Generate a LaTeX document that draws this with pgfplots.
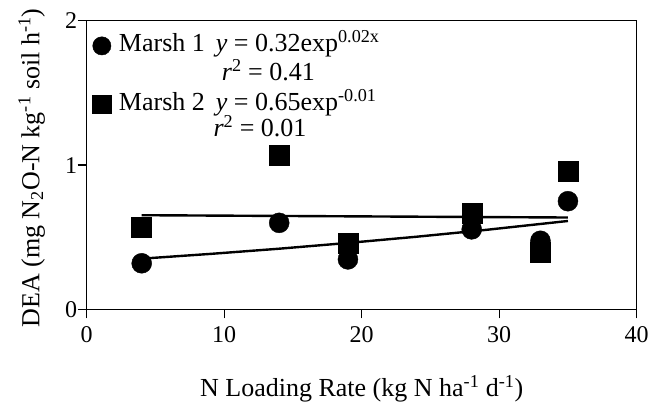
\documentclass[border=0pt]{standalone}
\usepackage{fontspec}
\setmainfont{Liberation Serif}
\usepackage{pgfplots}
\pgfplotsset{compat=1.18}
\begin{document}
\begin{tikzpicture}
\begin{axis}[name=ax,
  scale only axis, width=550pt, height=288.8pt,
  xmin=0, xmax=40, ymin=0, ymax=2,
  xtick={0,10,20,30,40}, ytick={0,1,2},
  xtick pos=bottom, ytick pos=left, tick align=outside, major tick length=9pt,
  tick style={line width=1.2pt, black},
  axis line style={line width=1.2pt},
  /pgf/number format/assume math mode=true,
  every tick label/.append style={font=\fontsize{24}{24}\selectfont},
  xticklabel style={yshift=-5pt},
  yticklabel style={xshift=3pt},
  every axis x label/.style={at={(axis description cs:0.5,-0.302)}, anchor=base},
  every axis y label/.style={at={(axis description cs:-0.0862,0.49)}, rotate=90, anchor=base},
  label style={font=\fontsize{26}{26}\selectfont},
  xlabel={N Loading Rate (kg N ha\textsuperscript{-1} d\textsuperscript{-1})},
  ylabel={DEA (mg N\textsubscript{2}O-N kg\textsuperscript{-1} soil h\textsuperscript{-1})},
  legend image code/.code={\draw[#1, mark size=9.15pt] plot coordinates {(0pt,0pt)};},
  legend cell align=left,
  legend style={at={(axis description cs:0,1)}, anchor=north west, xshift=5.8pt, yshift=-13pt,
    draw=none, fill=none, inner sep=0pt, row sep=34.3pt,
    font=\fontsize{26}{26}\selectfont,
    nodes={inner sep=0pt, text height=18pt, text depth=6pt},
    /tikz/every odd column/.append style={column sep=8pt}},
]
\addplot[only marks, mark=*, mark size=10pt, black] coordinates {
 (4,0.32) (14,0.60) (19,0.347) (28,0.555) (33,0.476) (35,0.75)};
\addlegendentry{Marsh 1\hspace{0.42em}\textit{y} = 0.32exp\textsuperscript{0.02x}}
\addplot[only marks, mark=square*, mark size=10pt, black] coordinates {
 (4,0.567) (14,1.07) (19,0.46) (28,0.67) (33,0.40) (35,0.955)};
\addlegendentry{Marsh 2\hspace{0.42em}\textit{y} = 0.65exp\textsuperscript{-0.01}}
\addplot[forget plot, black, line width=2.4pt] coordinates {
 (4,0.352) (9,0.385) (14,0.421) (19,0.461) (24,0.504) (29,0.551) (35,0.613)};
\addplot[forget plot, black, line width=2.4pt] coordinates {
 (4,0.653) (35,0.637)};
\node[anchor=base west, inner sep=0pt, font=\fontsize{26}{26}\selectfont] at (axis cs:9.82,1.589) {\textit{r}\textsuperscript{2} = 0.41};
\node[anchor=base west, inner sep=0pt, font=\fontsize{26}{26}\selectfont] at (axis cs:9.21,1.197) {\textit{r}\textsuperscript{2} = 0.01};
\end{axis}
\pgfresetboundingbox
\path ([xshift=-86.7pt,yshift=-96.5pt]ax.south west) rectangle ([xshift=12.3pt,yshift=20.7pt]ax.north east);
\end{tikzpicture}
\end{document}
